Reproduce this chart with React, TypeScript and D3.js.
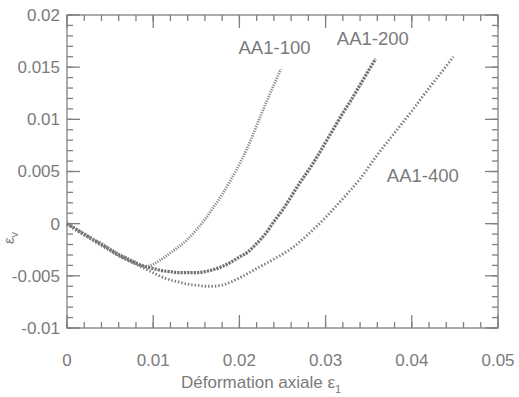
import React from "react";
import * as d3 from "d3";

// values (axial strain vs volumetric strain)
const strain100 = [0, 0.001, 0.002, 0.003, 0.004, 0.005, 0.006, 0.007, 0.008, 0.009, 0.01, 0.011, 0.012, 0.013, 0.014, 0.015, 0.016, 0.017, 0.018, 0.019, 0.02, 0.021, 0.022, 0.023, 0.024, 0.0248];
const ev100 = [0, -0.0005, -0.001, -0.0015, -0.0019, -0.0024, -0.0029, -0.0033, -0.0037, -0.0041, -0.0039, -0.0034, -0.0028, -0.0022, -0.0015, -0.0006, 0.0004, 0.0016, 0.0028, 0.0042, 0.0057, 0.0074, 0.0094, 0.0114, 0.0133, 0.0148];

const strain200 = [0, 0.001, 0.002, 0.003, 0.004, 0.005, 0.006, 0.007, 0.008, 0.009, 0.01, 0.011, 0.012, 0.013, 0.014, 0.015, 0.016, 0.017, 0.018, 0.019, 0.02, 0.021, 0.022, 0.023, 0.024, 0.025, 0.026, 0.027, 0.028, 0.029, 0.03, 0.031, 0.032, 0.033, 0.034, 0.035, 0.0358];
const ev200 = [0, -0.0005, -0.001, -0.0015, -0.002, -0.0025, -0.003, -0.0034, -0.0038, -0.0041, -0.0043, -0.0045, -0.0046, -0.0047, -0.0047, -0.0047, -0.0046, -0.0044, -0.0041, -0.0037, -0.0032, -0.0027, -0.0019, -0.001, 0.0002, 0.0013, 0.0026, 0.0039, 0.0051, 0.0064, 0.0078, 0.0092, 0.0106, 0.0119, 0.0133, 0.0147, 0.0158];

const strain400 = [0, 0.001, 0.002, 0.003, 0.004, 0.005, 0.006, 0.007, 0.008, 0.009, 0.01, 0.011, 0.012, 0.013, 0.014, 0.015, 0.016, 0.017, 0.018, 0.02, 0.022, 0.024, 0.026, 0.028, 0.03, 0.032, 0.034, 0.036, 0.038, 0.04, 0.042, 0.044, 0.0448];
const ev400 = [0, -0.0006, -0.0011, -0.0016, -0.0021, -0.0026, -0.0031, -0.0035, -0.0039, -0.0043, -0.0047, -0.0051, -0.0054, -0.0056, -0.0058, -0.0059, -0.006, -0.006, -0.0059, -0.0052, -0.0043, -0.0034, -0.0024, -0.001, 0.0006, 0.0024, 0.0043, 0.0066, 0.0087, 0.0108, 0.013, 0.0151, 0.016];

const seriesNames = ["AA1-100", "AA1-200", "AA1-400"];
const xTicks = [0, 0.01, 0.02, 0.03, 0.04, 0.05];
const yTicks = [-0.01, -0.005, 0, 0.005, 0.01, 0.015, 0.02];

const svgWidth = 519;
const svgHeight = 397;
const margin = { top: 15, right: 21, bottom: 69, left: 67 };
const innerWidth = svgWidth - margin.left - margin.right;
const innerHeight = svgHeight - margin.top - margin.bottom;
const axisColor = "#808080";
const textColor = "#7a7a7a";
const font = "'Liberation Sans', Arial, sans-serif";

const xScale = d3.scaleLinear().domain([0, 0.05]).range([0, innerWidth]);
const yScale = d3.scaleLinear().domain([-0.01, 0.02]).range([innerHeight, 0]);

const fmt = (d: number) => (d === 0 ? "0" : String(+d.toFixed(3)));
const xMinor = d3.range(0, 51, 2).map((v) => v / 1000);
const yMinor = d3.range(-10, 21, 1).map((v) => v / 1000);

const line = d3
  .line<[number, number]>()
  .x((d) => xScale(d[0]))
  .y((d) => yScale(d[1]))
  .curve(d3.curveMonotoneX);

const series = [
  { xs: strain100, ys: ev100, color: "#8a8a8a", width: 2.8, dash: "1.2 1.3" },
  { xs: strain200, ys: ev200, color: "#707070", width: 3.2, dash: "2.2 1.1" },
  { xs: strain400, ys: ev400, color: "#7a7a7a", width: 2.8, dash: "1.4 2" },
];

const labelPos = [
  { x: 0.0199, y: 0.0163 },
  { x: 0.0313, y: 0.0171 },
  { x: 0.0371, y: 0.004 },
];

// inward ticks on all four sides
const tickLines: { x1: number; y1: number; x2: number; y2: number }[] = [];
[
  { vals: xMinor, len: 6 },
  { vals: xTicks, len: 13 },
].forEach(({ vals, len }) =>
  vals.forEach((v) => {
    tickLines.push({ x1: xScale(v), y1: innerHeight, x2: xScale(v), y2: innerHeight - len });
    tickLines.push({ x1: xScale(v), y1: 0, x2: xScale(v), y2: len });
  })
);
[
  { vals: yMinor, len: 6 },
  { vals: yTicks, len: 13 },
].forEach(({ vals, len }) =>
  vals.forEach((v) => {
    tickLines.push({ x1: 0, y1: yScale(v), x2: len, y2: yScale(v) });
    tickLines.push({ x1: innerWidth, y1: yScale(v), x2: innerWidth - len, y2: yScale(v) });
  })
);

const App = () => {
  return (
    <svg
      width={svgWidth}
      height={svgHeight}
      style={{ position: "absolute", left: 0, top: 0 }}
    >
      <g transform={`translate(${margin.left},${margin.top})`}>
        {tickLines.map((t, i) => (
          <line
            key={"t" + i}
            x1={t.x1}
            y1={t.y1}
            x2={t.x2}
            y2={t.y2}
            stroke={axisColor}
            strokeWidth={1.3}
          />
        ))}
        <rect
          width={innerWidth}
          height={innerHeight}
          fill="none"
          stroke={axisColor}
          strokeWidth={1.3}
        />

        {xTicks.map((d) => (
          <text
            key={"xl" + d}
            x={xScale(d)}
            y={innerHeight + 38}
            textAnchor="middle"
            fill={textColor}
            fontFamily={font}
            fontSize={17}
          >
            {fmt(d)}
          </text>
        ))}
        {yTicks.map((d) => (
          <text
            key={"yl" + d}
            x={-7}
            y={yScale(d)}
            dy="0.35em"
            textAnchor="end"
            fill={textColor}
            fontFamily={font}
            fontSize={17}
          >
            {fmt(d)}
          </text>
        ))}

        {series.map((s, k) => (
          <path
            key={"s" + k}
            d={line(s.xs.map((x, i) => [x, s.ys[i]] as [number, number])) || ""}
            fill="none"
            stroke={s.color}
            strokeWidth={s.width}
            strokeDasharray={s.dash}
          />
        ))}

        {seriesNames.map((name, i) => (
          <text
            key={name}
            x={xScale(labelPos[i].x)}
            y={yScale(labelPos[i].y)}
            fill={textColor}
            fontFamily={font}
            fontSize={18.5}
          >
            {name}
          </text>
        ))}
      </g>

      <text x={181} y={388} fill={textColor} fontFamily={font} fontSize={17}>
        <tspan>Déformation axiale ε</tspan>
        <tspan dy={5} fontSize={11}>1</tspan>
      </text>
      <text
        transform="translate(14,238) rotate(-90)"
        textAnchor="middle"
        fill={textColor}
        fontFamily={font}
        fontSize={15}
      >
        <tspan>ε</tspan>
        <tspan dy={4} fontSize={11}>v</tspan>
      </text>
    </svg>
  );
};

export default App;
